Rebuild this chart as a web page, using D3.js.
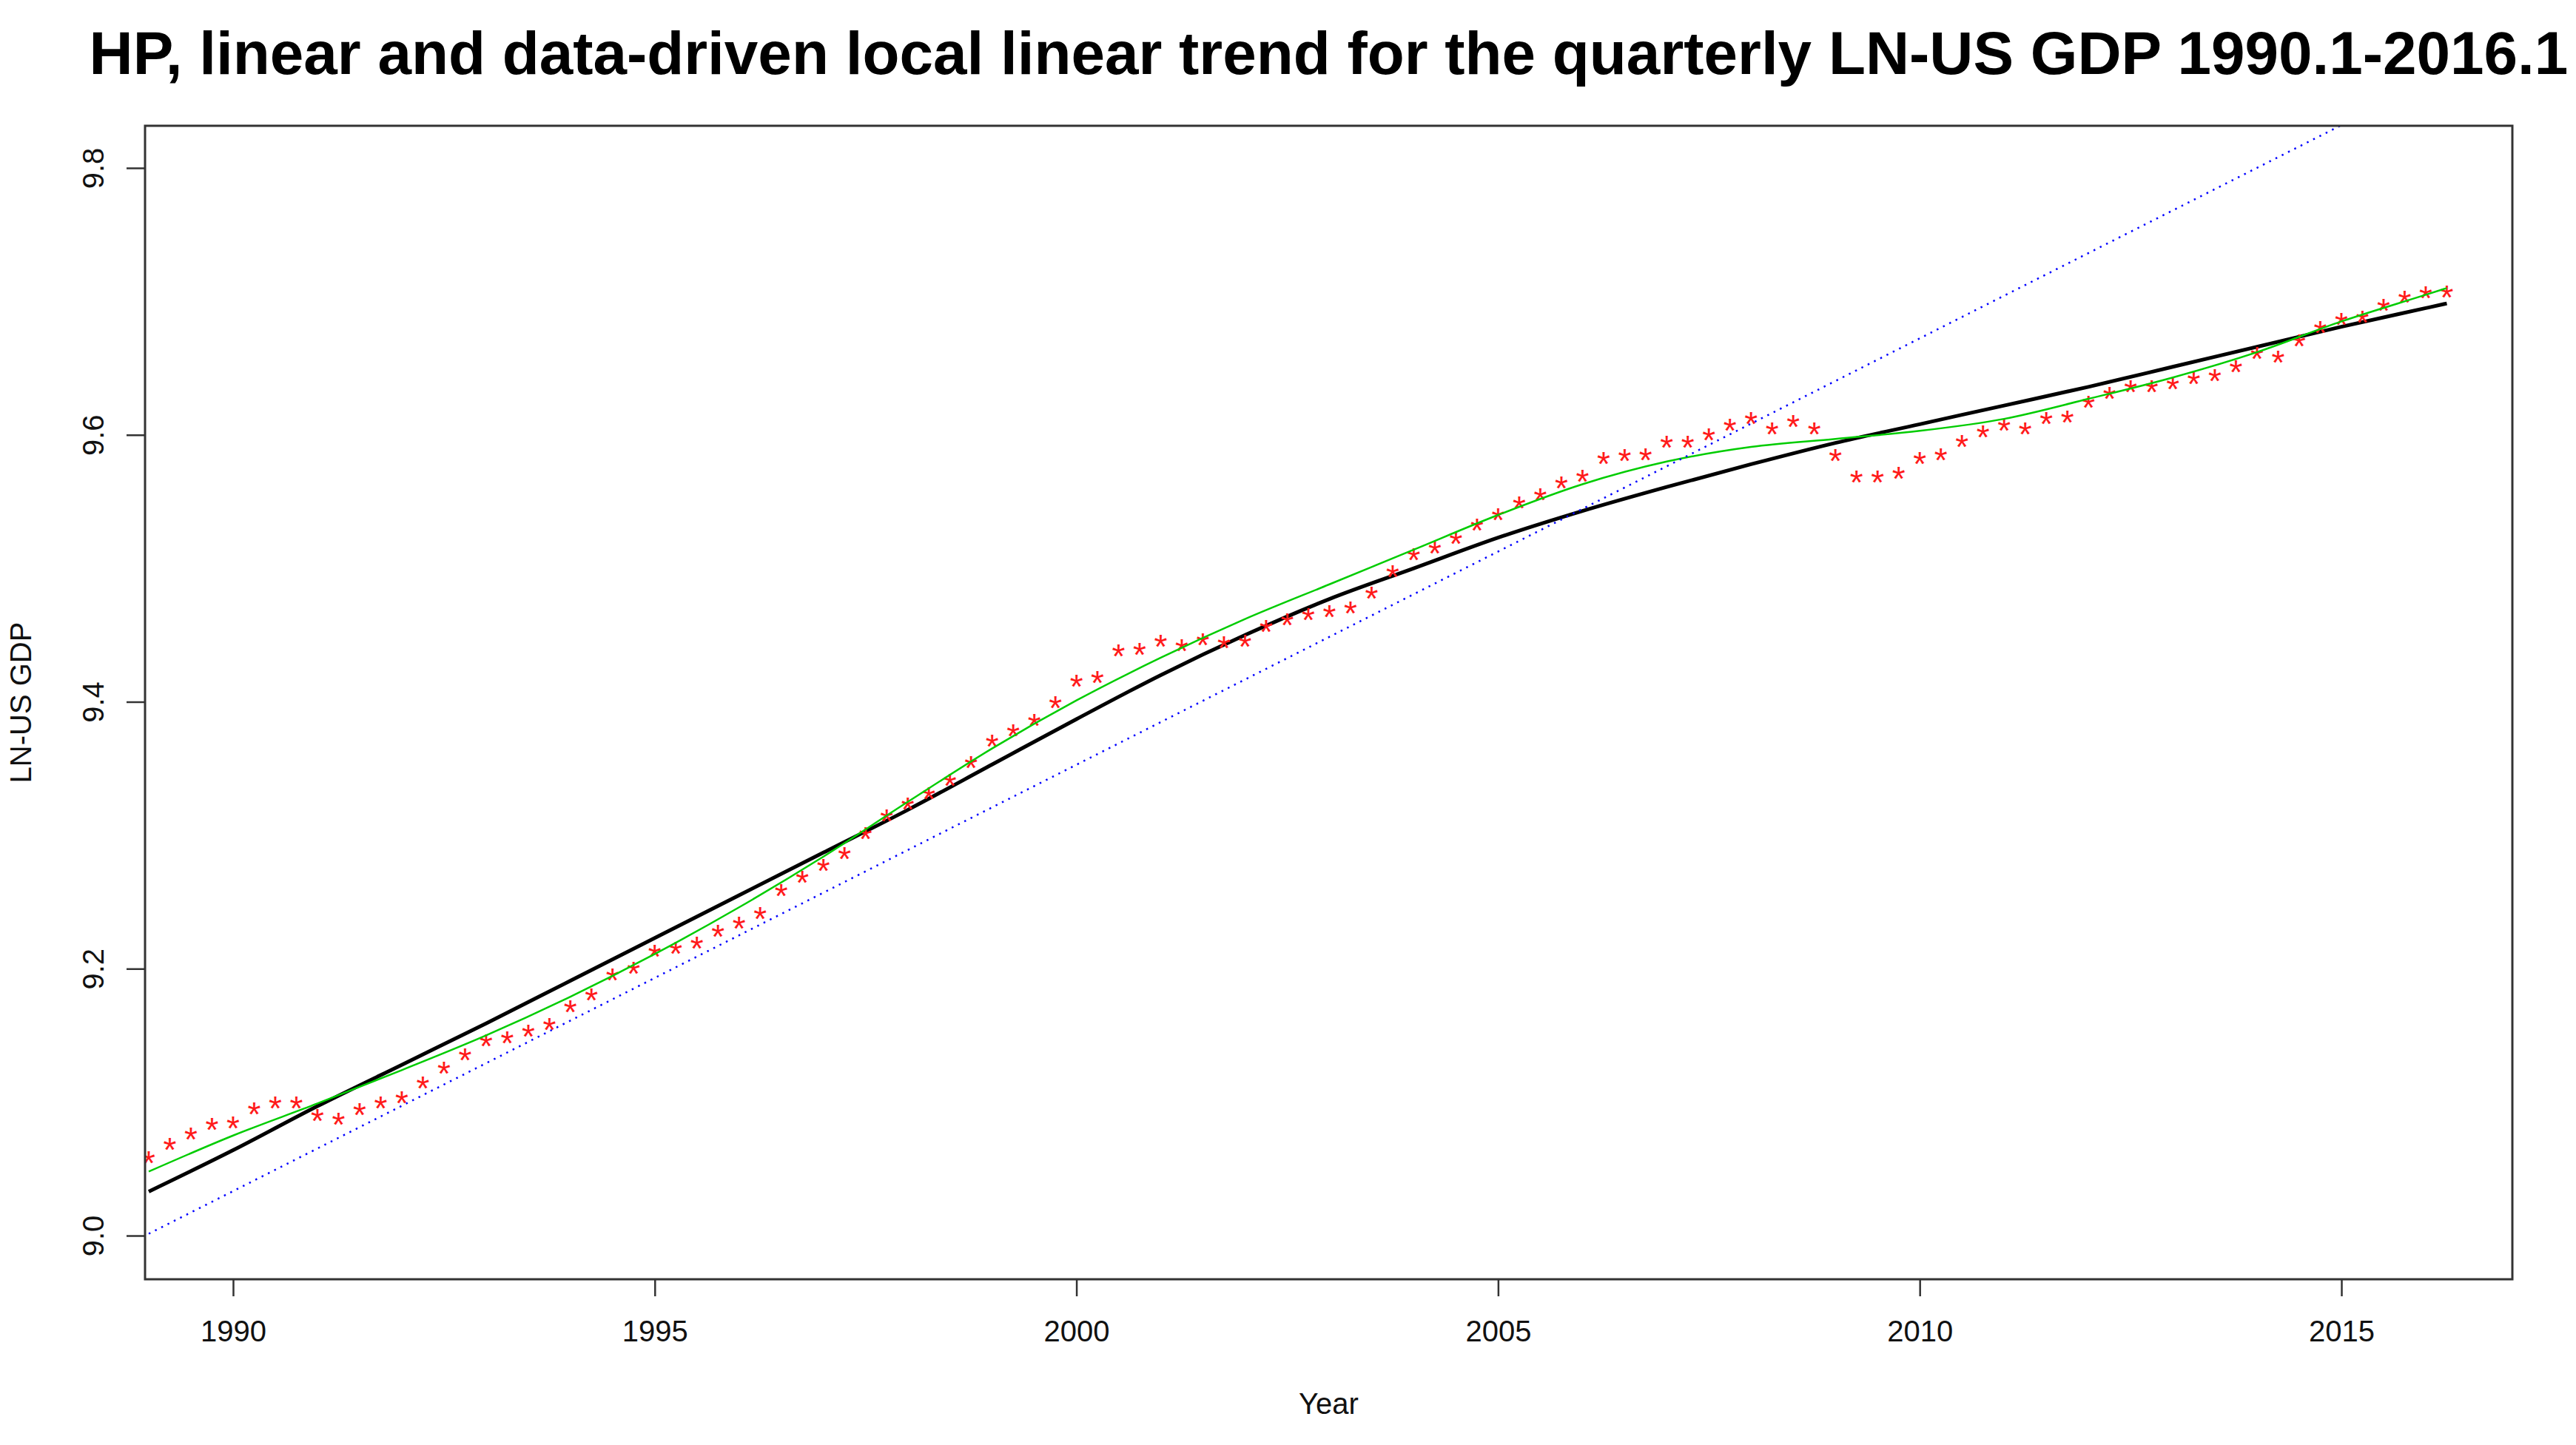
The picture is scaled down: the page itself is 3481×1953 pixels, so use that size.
<!DOCTYPE html>
<meta charset="utf-8">
<script src="https://d3js.org/d3.v7.min.js"></script>
<style>
  body { margin: 0; background: #fff; }
  text { font-family: "Liberation Sans", Arial, sans-serif; }
</style>
<div id="chart"></div>
<script>

// ln US GDP, quarterly from 1989 Q1
var gdpStart = 1989;
var gdpValues = [
  9.060, 9.070, 9.078, 9.085, 9.086, 9.097, 9.101, 9.101, 9.092, 9.089,
  9.096, 9.101, 9.105, 9.116, 9.127, 9.137, 9.148, 9.150, 9.155, 9.160,
  9.173, 9.182, 9.197, 9.202, 9.215, 9.217, 9.221, 9.230, 9.236, 9.243,
  9.260, 9.270, 9.279, 9.288, 9.303, 9.316, 9.325, 9.333, 9.343, 9.356,
  9.372, 9.380, 9.388, 9.401, 9.417, 9.420, 9.440, 9.441, 9.447, 9.444,
  9.448, 9.446, 9.447, 9.458, 9.463, 9.467, 9.469, 9.472, 9.483, 9.499,
  9.512, 9.517, 9.524, 9.534, 9.542, 9.551, 9.557, 9.566, 9.571, 9.584,
  9.586, 9.587, 9.596, 9.596, 9.602, 9.609, 9.614, 9.606, 9.612, 9.606,
  9.586, 9.570, 9.570, 9.573, 9.584, 9.587, 9.597, 9.604, 9.609, 9.606,
  9.614, 9.615, 9.626, 9.633, 9.638, 9.638, 9.640, 9.644, 9.646, 9.653,
  9.663, 9.660, 9.672, 9.682, 9.688, 9.690, 9.699, 9.705, 9.708, 9.709
];

// trend curves, read at the start of each year and at the last quarter
var trendYears = [1989, 1990, 1991, 1992, 1993, 1994, 1995, 1996, 1997, 1998,
  1999, 2000, 2001, 2002, 2003, 2004, 2005, 2006, 2007, 2008,
  2009, 2010, 2011, 2012, 2013, 2014, 2015, 2016, 2016.25];
var hpTrend = [9.033, 9.064, 9.097, 9.128, 9.159, 9.191, 9.223, 9.255, 9.287, 9.319,
  9.353, 9.387, 9.420, 9.450, 9.477, 9.500, 9.523, 9.543, 9.561, 9.578,
  9.594, 9.608, 9.622, 9.636, 9.651, 9.666, 9.681, 9.695, 9.6985];
var localTrend = [9.048, 9.075, 9.099, 9.124, 9.150, 9.179, 9.211, 9.246, 9.284, 9.325,
  9.365, 9.401, 9.433, 9.462, 9.488, 9.514, 9.540, 9.563, 9.580, 9.591,
  9.597, 9.603, 9.612, 9.627, 9.643, 9.662, 9.685, 9.705, 9.710];

// linear trend, two ends
var linearYears = [1989, 2016.25];
var linearTrend = [9.0014, 9.872];

var xTicks = [1990, 1995, 2000, 2005, 2010, 2015];
var yTicks = [9.0, 9.2, 9.4, 9.6, 9.8];

var width = 3481, height = 1953;
var margin = {top: 170, right: 86, bottom: 224, left: 196};
var plotW = width - margin.left - margin.right,
    plotH = height - margin.top - margin.bottom;

var svg = d3.select("#chart")
  .append("svg")
    .attr("width", width)
    .attr("height", height)
    .style("background", "#fff");

var x = d3.scaleLinear()
  .domain([1988.956, 2017.027])
  .range([margin.left, margin.left + plotW]);

var y = d3.scaleLinear()
  .domain([8.9673, 9.8316])
  .range([margin.top + plotH, margin.top]);

svg.append("clipPath")
    .attr("id", "plotclip")
  .append("rect")
    .attr("x", margin.left)
    .attr("y", margin.top)
    .attr("width", plotW)
    .attr("height", plotH);

var plot = svg.append("g").attr("clip-path", "url(#plotclip)");

var gdp = gdpValues.map(function(v, i) { return {t: gdpStart + i / 4, v: v}; });
var hp = trendYears.map(function(t, i) { return {t: t, v: hpTrend[i]}; });
var loc = trendYears.map(function(t, i) { return {t: t, v: localTrend[i]}; });
var lin = linearYears.map(function(t, i) { return {t: t, v: linearTrend[i]}; });

var line = d3.line()
  .x(function(d) { return x(d.t); })
  .y(function(d) { return y(d.v); })
  .curve(d3.curveMonotoneX);

// HP trend
plot.append("path")
  .datum(hp)
  .attr("d", line)
  .attr("fill", "none")
  .attr("stroke", "#000")
  .attr("stroke-width", 5);

// data as red stars; the "*" glyph sits about 0.575em above the baseline
var starSize = 46;
var starDy = 0.575 * starSize;

plot.selectAll("mystar")
  .data(gdp)
  .enter()
  .append("text")
    .attr("x", function(d) { return x(d.t); })
    .attr("y", function(d) { return y(d.v) + starDy; })
    .attr("text-anchor", "middle")
    .attr("font-size", starSize)
    .attr("fill", "#ff1a1a")
    .text("*");

// data-driven local linear trend
plot.append("path")
  .datum(loc)
  .attr("d", line)
  .attr("fill", "none")
  .attr("stroke", "#00cc00")
  .attr("stroke-width", 2.5);

// linear trend
plot.append("path")
  .datum(lin)
  .attr("d", d3.line().x(function(d) { return x(d.t); }).y(function(d) { return y(d.v); }))
  .attr("fill", "none")
  .attr("stroke", "#0000ff")
  .attr("stroke-width", 2.5)
  .attr("stroke-dasharray", "2.5,7");

// X axis
var gx = svg.append("g")
  .attr("transform", "translate(0," + (margin.top + plotH) + ")")
  .call(d3.axisBottom(x).tickValues(xTicks).tickFormat(d3.format("d")).tickSize(23).tickPadding(33));
gx.select(".domain").remove();
gx.selectAll("line").attr("stroke", "#333").attr("stroke-width", 2.5);
gx.selectAll("text")
  .attr("font-size", 40)
  .attr("fill", "#111")
  .style("font-family", "Liberation Sans, Arial, sans-serif");

// Y axis
var gy = svg.append("g")
  .attr("transform", "translate(" + margin.left + ",0)")
  .call(d3.axisLeft(y).tickValues(yTicks).tickFormat(d3.format(".1f")).tickSize(25));
gy.select(".domain").remove();
gy.selectAll("line").attr("stroke", "#333").attr("stroke-width", 2.5);
gy.selectAll("text")
  .attr("transform", "rotate(-90)")
  .attr("x", 0)
  .attr("y", -56)
  .attr("dy", null)
  .attr("text-anchor", "middle")
  .attr("font-size", 40)
  .attr("fill", "#111")
  .style("font-family", "Liberation Sans, Arial, sans-serif");

// box
svg.append("rect")
  .attr("x", margin.left)
  .attr("y", margin.top)
  .attr("width", plotW)
  .attr("height", plotH)
  .attr("fill", "none")
  .attr("stroke", "#333")
  .attr("stroke-width", 3);

// titles
var title = svg.append("text")
  .attr("x", margin.left + plotW / 2)
  .attr("y", 100)
  .attr("text-anchor", "middle")
  .attr("font-weight", "bold")
  .attr("font-size", 80)
  .attr("fill", "#000")
  .text("HP, linear and data-driven local linear trend for the quarterly LN-US GDP 1990.1-2016.1");
var tw = title.node().getComputedTextLength();
title.attr("font-size", 80 * 3350 / tw);

svg.append("text")
  .attr("x", margin.left + plotW / 2)
  .attr("y", 1911)
  .attr("text-anchor", "middle")
  .attr("font-size", 40)
  .attr("fill", "#111")
  .text("Year");

svg.append("text")
  .attr("transform", "translate(42," + (margin.top + plotH / 2) + ") rotate(-90)")
  .attr("text-anchor", "middle")
  .attr("font-size", 40)
  .attr("fill", "#111")
  .text("LN-US GDP");

</script>
